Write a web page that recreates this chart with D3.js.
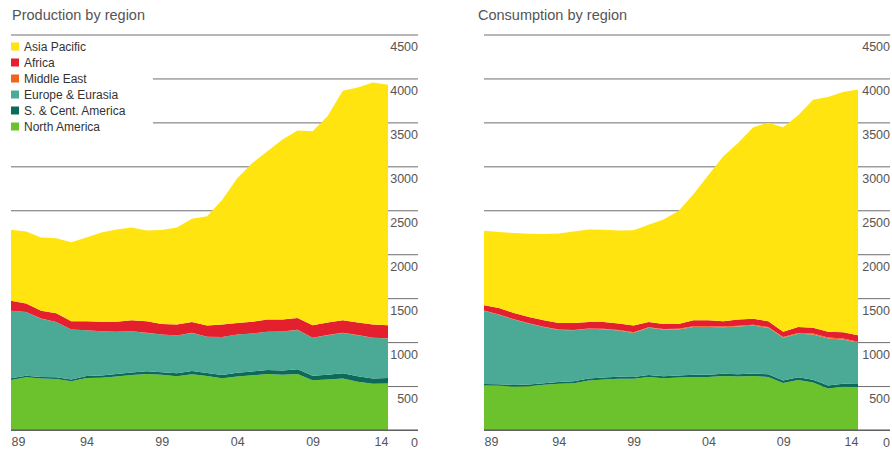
<!DOCTYPE html>
<html>
<head>
<meta charset="utf-8">
<script src="https://cdn.jsdelivr.net/npm/d3@7/dist/d3.min.js"></script>
<style>
  html, body { margin: 0; padding: 0; background: #fff; }
  svg { display: block; font-family: "Liberation Sans", Arial, sans-serif; }
</style>
</head>
<body>
<svg id="chart" width="892" height="452"></svg>
<script>
// Coal by region, million tonnes oil equivalent, 1989-2014
const years = [1989, 1990, 1991, 1992, 1993, 1994, 1995, 1996, 1997, 1998, 1999, 2000, 2001,
               2002, 2003, 2004, 2005, 2006, 2007, 2008, 2009, 2010, 2011, 2012, 2013, 2014];

const regions = ["North America", "S. & Cent. America", "Europe & Eurasia", "Middle East", "Africa", "Asia Pacific"];
const legendOrder = ["Asia Pacific", "Africa", "Middle East", "Europe & Eurasia", "S. & Cent. America", "North America"];

// Production
const prodNorthAmerica = [570, 600, 585, 580, 555, 592, 595, 610, 625, 638, 628, 612, 635, 615, 590, 610, 622, 636, 628, 638, 565, 575, 585, 548, 525, 530];
const prodSouthCentAmerica = [18, 18, 19, 20, 20, 22, 24, 27, 29, 30, 30, 33, 35, 34, 37, 41, 44, 47, 50, 53, 52, 53, 60, 63, 62, 62];
const prodEuropeEurasia = [769, 724, 663, 629, 568, 521, 505, 480, 470, 437, 429, 430, 435, 411, 430, 436, 432, 434, 442, 448, 432, 451, 460, 468, 462, 450];
const prodMiddleEast = [1, 1, 1, 1, 1, 1, 1, 1, 1, 1, 1, 1, 1, 1, 1, 1, 1, 1, 1, 1, 1, 1, 1, 1, 1, 1];
const prodAfrica = [112, 97, 89, 97, 93, 101, 108, 115, 123, 131, 119, 123, 123, 127, 141, 130, 134, 138, 135, 135, 142, 142, 142, 142, 149, 149];
const prodAsiaPacific = [809, 819, 833, 856, 900, 953, 1015, 1049, 1057, 1034, 1068, 1106, 1176, 1243, 1418, 1647, 1804, 1915, 2049, 2133, 2208, 2350, 2611, 2675, 2755, 2735];

// Consumption
const consNorthAmerica = [506, 503, 495, 499, 514, 525, 533, 563, 574, 582, 582, 604, 589, 597, 604, 604, 615, 608, 615, 604, 536, 570, 540, 472, 491, 488];
const consSouthCentAmerica = [18, 18, 18, 19, 19, 20, 21, 22, 23, 23, 22, 22, 22, 23, 24, 25, 26, 27, 28, 30, 27, 30, 32, 33, 34, 35];
const consEuropeEurasia = [833, 791, 743, 693, 640, 594, 581, 566, 550, 527, 501, 536, 532, 523, 545, 544, 528, 542, 545, 528, 486, 494, 515, 537, 505, 470];
const consMiddleEast = [2, 2, 3, 3, 3, 4, 4, 5, 5, 6, 6, 7, 7, 8, 8, 8, 8, 9, 9, 9, 9, 10, 10, 10, 10, 10];
const consAfrica = [59, 73, 72, 72, 72, 75, 79, 73, 77, 73, 77, 60, 57, 56, 67, 67, 60, 70, 70, 66, 59, 69, 65, 65, 73, 76];
const consAsiaPacific = [849, 865, 910, 947, 981, 1018, 1041, 1053, 1050, 1060, 1085, 1106, 1188, 1284, 1434, 1652, 1877, 2011, 2179, 2259, 2329, 2407, 2597, 2673, 2734, 2795];

// Axis ticks
const yTicks = [0, 500, 1000, 1500, 2000, 2500, 3000, 3500, 4000, 4500];
const xTicks = [1989, 1994, 1999, 2004, 2009, 2014];

const colors = {
  "Asia Pacific": "#ffe40f",
  "Africa": "#e5202e",
  "Middle East": "#f0641e",
  "Europe & Eurasia": "#4aaa95",
  "S. & Cent. America": "#0b6a58",
  "North America": "#6cc22d"
};

function buildRows(series) {
  return years.map((yr, i) => {
    const row = { year: yr };
    regions.forEach((r, k) => { row[r] = series[k][i]; });
    return row;
  });
}

const production = buildRows([prodNorthAmerica, prodSouthCentAmerica, prodEuropeEurasia, prodMiddleEast, prodAfrica, prodAsiaPacific]);
const consumption = buildRows([consNorthAmerica, consSouthCentAmerica, consEuropeEurasia, consMiddleEast, consAfrica, consAsiaPacific]);

const svg = d3.select("#chart");

function drawPanel(opts) {
  const g = svg.append("g");
  const x = d3.scaleLinear().domain([1989, 2014]).range([opts.left, opts.right]);
  const y = d3.scaleLinear().domain([0, 4500]).range([430, 34.5]);

  // horizontal gridlines with their value labels sitting just below each line
  const gridW = opts.axisEnd - opts.left;
  const yAxis = d3.axisLeft(y).tickValues(yTicks).tickSize(gridW).tickFormat(d3.format("d"));
  const ya = g.append("g").attr("transform", `translate(${opts.axisEnd},0)`).call(yAxis);
  ya.select(".domain").remove();
  ya.selectAll(".tick line").attr("stroke", "#6e6e6e").attr("stroke-width", 1);
  ya.selectAll(".tick text")
    .attr("x", 0).attr("dy", 0).attr("y", 16)
    .attr("text-anchor", "end")
    .attr("fill", "#555").attr("font-size", "12.5px");

  // stacked areas
  const stack = d3.stack().keys(regions);
  const layers = stack(opts.data);
  const area = d3.area()
    .x(d => x(d.data.year))
    .y0(d => y(d[0]))
    .y1(d => y(d[1]));
  g.append("g").selectAll("path").data(layers).join("path")
    .attr("fill", d => colors[d.key])
    .attr("d", area);

  // zero baseline
  g.append("line")
    .attr("x1", opts.left).attr("x2", opts.axisEnd)
    .attr("y1", y(0)).attr("y2", y(0))
    .attr("stroke", "#555").attr("stroke-width", 1.2);

  // year labels
  const xAxis = d3.axisBottom(x).tickValues(xTicks).tickSize(0)
    .tickFormat(d => String(d % 100).padStart(2, "0"));
  const xa = g.append("g").attr("transform", `translate(0,${y(0)})`).call(xAxis);
  xa.select(".domain").remove();
  xa.selectAll(".tick text")
    .attr("y", 16).attr("dy", 0)
    .attr("fill", "#555").attr("font-size", "12.5px")
    .attr("text-anchor", (d, i) => i === 0 ? "start" : (i === xTicks.length - 1 ? "end" : "middle"));

  // title
  g.append("text")
    .attr("x", opts.titleX).attr("y", 20)
    .attr("fill", "#555").attr("font-size", "14.5px")
    .text(opts.title);

  return g;
}

drawPanel({ data: production, left: 11, right: 388, axisEnd: 418, titleX: 12, title: "Production by region" });
drawPanel({ data: consumption, left: 484, right: 858, axisEnd: 890, titleX: 478, title: "Consumption by region" });

// legend on a white panel over the production chart's upper gridlines
const legend = svg.append("g");
legend.append("rect")
  .attr("x", 0).attr("y", 38).attr("width", 153).attr("height", 98)
  .attr("fill", "#fff");
legendOrder.forEach((name, i) => {
  const cy = 46.5 + i * 16;
  legend.append("rect")
    .attr("x", 11).attr("y", cy - 4).attr("width", 8).attr("height", 8)
    .attr("fill", colors[name]);
  legend.append("text")
    .attr("x", 24).attr("y", cy + 4.5)
    .attr("fill", "#333").attr("font-size", "12px")
    .text(name);
});
</script>
</body>
</html>
